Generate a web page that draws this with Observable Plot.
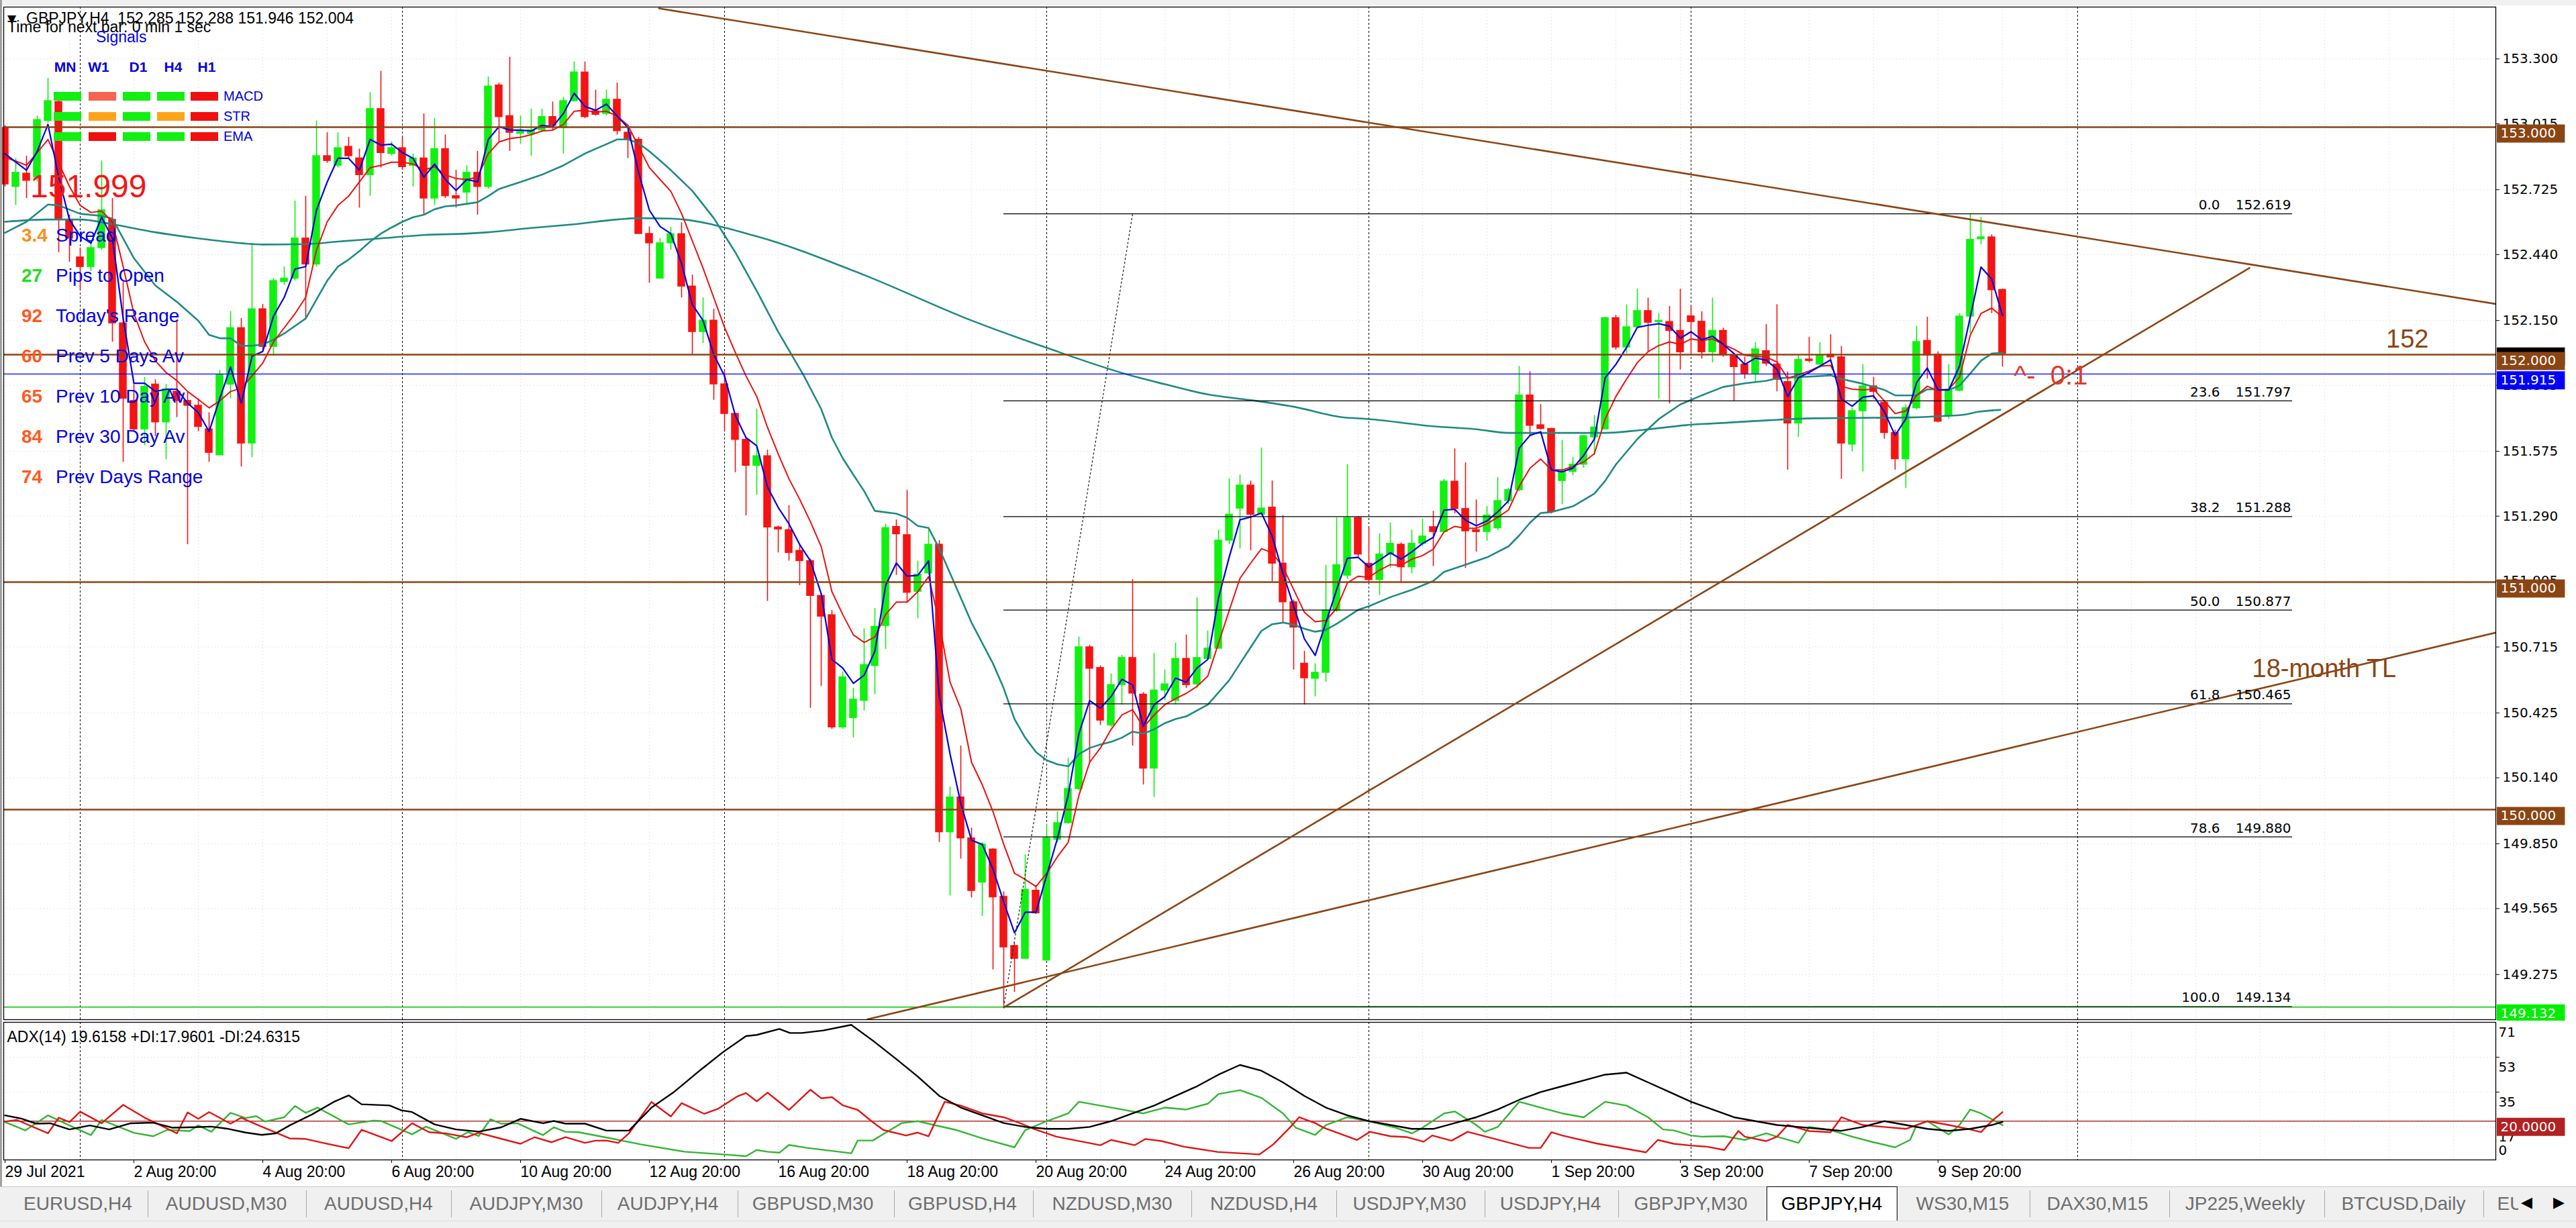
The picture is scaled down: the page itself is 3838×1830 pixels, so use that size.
<!DOCTYPE html>
<html><head><meta charset="utf-8">
<script src="https://cdn.jsdelivr.net/npm/d3@7"></script>
<script src="https://cdn.jsdelivr.net/npm/@observablehq/plot@0.6"></script>
<style>
body{margin:0;background:#fff;}
#root{position:relative;width:3838px;height:1830px;overflow:hidden;background:#fff;font-family:"Liberation Sans",Arial,sans-serif;}
#price,#adx{position:absolute;left:0;width:3838px;}
#price{top:0}
#adx{top:1521px}
#overlay{position:absolute;left:0;top:0;pointer-events:none}
#tabs{position:absolute;left:0;top:1768px;width:3838px;height:62px;background:#f0f0f0;border-top:1px solid #c8c8c8;box-sizing:border-box;}
.tab{position:absolute;top:0;height:50px;line-height:50px;font-size:28px;color:#6d6d6d;transform:translateX(-50%);white-space:nowrap;}
.sep{position:absolute;top:5px;height:40px;width:1px;background:#a8a8a8;}
</style></head>
<body><div id="root"><div id="price"></div><div id="adx"></div><svg id="overlay" width="3838" height="1830"></svg><div id="tabs"></div></div>
<script>
// ---------------- DATA ----------------
const open = [
152.997,152.738,152.796,152.780,153.028,153.111,152.593,152.428,152.386,152.469,
152.593,152.138,151.797,151.672,151.869,151.703,151.838,151.797,151.776,151.672,
151.558,151.869,152.117,151.610,152.200,152.035,152.320,152.335,152.511,152.397,
152.873,152.831,152.914,152.863,152.790,153.080,152.883,152.908,152.831,152.863,
152.687,152.904,152.697,152.713,152.800,152.738,153.184,153.049,152.972,152.970,
152.987,153.045,152.997,153.115,153.241,153.070,153.059,153.121,152.976,152.945,
152.531,152.335,152.490,152.530,152.300,152.100,152.150,151.870,151.740,151.626,
151.512,151.554,151.241,151.229,151.138,151.093,150.940,150.855,150.362,150.403,
150.479,150.632,150.808,151.243,151.207,150.958,151.039,151.165,149.901,150.054,
149.874,149.680,149.825,149.617,149.401,149.345,149.644,149.337,149.868,149.941,
150.091,150.714,150.623,150.371,150.548,150.667,150.506,150.181,150.524,150.479,
150.663,150.551,150.663,150.708,151.183,151.324,151.425,151.297,151.328,151.082,
150.912,150.642,150.576,150.602,150.876,151.029,151.282,151.081,151.010,151.122,
151.165,151.066,151.169,151.242,151.221,151.442,151.322,151.229,151.221,151.237,
151.357,151.405,151.821,151.690,151.674,151.445,151.485,151.517,151.637,151.672,
152.161,152.032,152.121,152.192,152.144,152.144,152.105,152.169,152.145,152.011,
152.105,151.997,151.957,151.917,152.016,151.957,151.880,151.698,151.979,151.957,
152.001,151.989,151.605,151.752,151.861,151.789,151.656,151.541,151.765,152.061,
152.001,151.733,151.842,152.168,152.508,152.516,152.285];
const high = [
153.007,152.863,152.873,153.049,153.215,153.121,152.614,152.469,152.490,152.852,
152.687,152.324,151.869,151.900,151.890,151.869,152.148,151.838,151.807,151.745,
151.931,152.190,152.159,152.490,152.221,152.335,152.386,152.676,152.697,153.028,
152.976,152.976,152.956,152.904,153.152,153.246,152.935,152.956,152.883,153.059,
153.038,152.966,152.811,152.831,152.894,153.221,153.194,153.308,153.049,153.080,
153.080,153.111,153.132,153.287,153.287,153.163,153.163,153.194,152.987,152.956,
152.562,152.511,152.560,152.580,152.350,152.250,152.200,151.930,151.743,151.635,
151.761,151.581,151.247,151.337,151.165,151.102,150.949,150.876,150.605,150.533,
150.795,150.885,151.256,151.274,151.404,151.093,151.229,151.183,150.100,150.280,
149.919,149.856,149.829,149.639,149.413,149.802,149.666,149.937,149.991,150.226,
150.759,150.723,150.632,150.596,150.678,151.012,150.515,150.687,150.614,150.732,
150.768,150.931,150.786,151.229,151.454,151.472,151.445,151.590,151.445,151.292,
150.922,150.696,150.642,151.075,151.283,151.517,151.288,151.237,151.213,151.261,
151.173,151.229,151.277,151.312,151.453,151.586,151.525,151.362,151.333,151.461,
151.413,151.949,151.925,151.781,151.677,151.624,151.549,151.645,151.733,152.165,
152.173,152.220,152.288,152.249,152.181,152.212,152.288,152.212,152.189,152.249,
152.117,152.005,151.989,152.053,152.133,152.220,151.925,151.997,152.077,152.053,
152.088,152.037,151.765,151.957,151.901,151.797,151.669,151.781,152.125,152.165,
152.013,151.957,152.181,152.619,152.604,152.527,152.288];
const low = [
152.738,152.656,152.687,152.759,153.018,152.449,152.407,152.283,152.366,152.459,
152.055,151.527,151.662,151.600,151.641,151.538,151.724,151.165,151.662,151.527,
151.558,151.807,151.507,151.548,152.014,151.993,152.304,152.324,152.159,152.386,
152.842,152.821,152.863,152.645,152.697,152.821,152.873,152.811,152.738,152.614,
152.656,152.687,152.645,152.656,152.614,152.728,152.935,152.894,152.925,152.873,
152.976,152.987,152.883,153.111,153.038,153.049,153.049,152.966,152.863,152.531,
152.314,152.335,152.460,152.250,152.000,152.050,151.800,151.662,151.482,151.292,
151.382,150.916,151.129,151.093,150.985,150.446,150.542,150.353,150.353,150.316,
150.434,150.506,150.705,151.030,150.912,150.840,151.030,149.856,149.621,149.783,
149.612,149.531,149.296,149.140,149.197,149.341,149.540,149.337,149.856,149.937,
150.082,150.208,150.371,150.362,150.461,150.280,150.109,150.054,150.479,150.461,
150.533,150.533,150.660,150.705,151.165,151.147,151.138,151.292,151.003,150.822,
150.614,150.461,150.497,150.560,150.867,151.013,151.109,150.997,150.942,151.061,
150.997,151.037,151.157,151.069,151.221,151.301,151.061,151.133,151.181,151.229,
151.341,151.397,151.645,151.669,151.301,151.341,151.469,151.501,151.557,151.669,
152.021,152.005,152.117,152.013,151.805,151.784,151.933,151.997,151.981,151.965,
151.989,151.797,151.893,151.877,151.949,151.837,151.493,151.637,151.965,151.941,
151.965,151.453,151.573,151.485,151.805,151.629,151.493,151.413,151.757,151.893,
151.701,151.717,151.837,152.093,152.484,152.181,151.946];
const close = [
152.749,152.800,152.765,153.032,153.115,152.593,152.511,152.386,152.469,152.635,
152.138,151.807,151.672,151.859,151.703,151.848,151.797,151.776,151.683,151.569,
151.910,152.117,151.610,152.200,152.035,152.324,152.335,152.511,152.397,152.873,
152.852,152.908,152.873,152.790,153.080,152.887,152.908,152.825,152.863,152.687,
152.904,152.697,152.687,152.800,152.738,153.179,153.045,152.976,152.980,152.987,
153.045,153.007,153.115,153.241,153.045,153.055,153.121,152.983,152.945,152.531,
152.490,152.490,152.530,152.300,152.100,152.150,151.870,151.740,151.626,151.512,
151.554,151.241,151.232,151.129,151.093,150.940,150.849,150.362,150.582,150.484,
150.636,150.804,151.238,151.211,150.954,151.033,151.165,149.901,150.054,149.874,
149.643,149.847,149.615,149.395,149.345,149.648,149.545,149.874,149.941,150.091,
150.714,150.620,150.392,150.548,150.667,150.511,150.181,150.524,150.551,150.663,
150.548,150.667,150.708,151.183,151.297,151.425,151.297,151.324,151.082,150.912,
150.801,150.578,150.602,150.876,151.075,151.282,151.122,151.010,151.122,151.169,
151.066,151.169,151.201,151.221,151.442,151.322,151.224,151.221,151.293,151.357,
151.405,151.821,151.688,151.674,151.309,151.485,151.517,151.642,151.680,152.161,
152.032,152.121,152.192,152.141,152.149,152.105,152.011,152.144,152.011,152.105,
151.997,151.946,151.917,152.024,151.961,151.890,151.698,151.977,151.973,151.997,
151.989,151.610,151.752,151.861,151.837,151.656,151.541,151.765,152.056,151.997,
151.706,151.842,152.168,152.505,152.516,152.284,152.004];

// fast moving averages (one value per bar)
const blueMA = [
152.883,152.846,152.811,152.894,153.012,152.780,152.593,152.521,152.490,152.604,
152.511,152.159,151.874,151.874,151.838,151.848,151.848,151.787,151.745,151.662,
151.807,151.946,151.787,151.993,152.014,152.169,152.252,152.376,152.387,152.635,
152.759,152.863,152.863,152.811,152.946,152.921,152.925,152.888,152.863,152.780,
152.838,152.770,152.722,152.770,152.759,152.946,153.002,152.987,152.987,152.983,
153.008,153.002,153.060,153.149,153.091,153.074,153.101,153.049,152.998,152.801,
152.635,152.563,152.532,152.400,152.220,152.150,152.000,151.906,151.734,151.635,
151.599,151.418,151.328,151.256,151.165,151.093,150.949,150.660,150.623,150.555,
150.591,150.696,150.985,151.084,151.026,151.030,151.093,150.497,150.244,150.027,
149.865,149.847,149.738,149.594,149.458,149.549,149.549,149.711,149.874,150.063,
150.334,150.479,150.446,150.497,150.573,150.548,150.367,150.461,150.497,150.578,
150.560,150.623,150.660,150.931,151.111,151.274,151.286,151.304,151.201,151.039,
150.894,150.750,150.678,150.822,150.967,151.105,151.109,151.066,151.097,151.129,
151.101,151.133,151.170,151.197,151.317,151.320,151.272,151.248,151.269,151.309,
151.357,151.589,151.645,151.661,151.493,151.485,151.501,151.557,151.629,151.898,
151.957,152.032,152.120,152.129,152.136,152.125,152.072,152.101,152.065,152.081,
152.045,152.005,151.957,151.985,151.976,151.936,151.816,151.898,151.922,151.949,
151.977,151.805,151.773,151.813,151.819,151.749,151.645,151.717,151.877,151.941,
151.845,151.845,151.949,152.165,152.385,152.332,152.173];
const redMA = [
152.867,152.851,152.832,152.888,152.946,152.842,152.739,152.656,152.625,152.631,
152.584,152.387,152.180,152.056,151.973,151.921,151.886,151.838,151.803,151.766,
151.797,151.838,151.853,151.907,151.963,152.056,152.118,152.180,152.252,152.459,
152.584,152.656,152.697,152.759,152.822,152.832,152.846,152.846,152.838,152.811,
152.826,152.791,152.774,152.770,152.780,152.884,152.935,152.950,152.956,152.967,
152.983,152.987,153.012,153.070,153.074,153.066,153.070,153.049,153.008,152.915,
152.822,152.770,152.718,152.620,152.500,152.380,152.250,152.120,152.010,151.906,
151.816,151.680,151.563,151.454,151.364,151.265,151.156,150.958,150.858,150.768,
150.735,150.759,150.858,150.912,150.912,150.958,151.024,150.822,150.560,150.443,
150.208,150.109,149.991,149.847,149.720,149.693,149.662,149.720,149.793,149.856,
150.063,150.208,150.271,150.353,150.416,150.439,150.362,150.416,150.461,150.488,
150.511,150.542,150.587,150.732,150.876,151.017,151.084,151.147,151.129,151.066,
150.967,150.867,150.826,150.831,150.885,150.997,151.026,151.021,151.053,151.077,
151.074,151.101,151.117,151.145,151.221,151.245,151.237,151.237,151.256,151.285,
151.317,151.421,151.501,151.541,151.493,151.493,151.509,151.528,151.565,151.717,
151.816,151.893,151.965,152.013,152.040,152.056,152.045,152.069,152.061,152.069,
152.045,152.024,151.997,151.993,151.989,151.968,151.896,151.912,151.928,151.949,
151.953,151.861,151.848,151.845,151.848,151.797,151.741,151.752,151.821,151.861,
151.842,151.848,151.901,152.085,152.181,152.205,152.165];
// slower averages: [bar, price] vertices
const tealMid = [[0,152.536],[2,152.584],[4,152.660],[5,152.656],[7,152.619],[9,152.610],[10,152.598],[12,152.424],[14,152.304],[16,152.232],[18,152.149],[19,152.087],[20,152.072],[21,152.072],[22,152.039],[23,152.039],[24,152.045],[25,152.066],[26,152.093],[28,152.159],[29,152.242],[30,152.325],[31,152.387],[32,152.418],[33,152.455],[34,152.497],[35,152.532],[36,152.559],[37,152.584],[38,152.604],[39,152.615],[40,152.639],[41,152.652],[42,152.656],[44,152.670],[45,152.697],[46,152.728],[48,152.759],[50,152.791],[52,152.832],[54,152.884],[56,152.925],[57,152.946],[58,152.946],[59,152.929],[60,152.894],[61,152.853],[62,152.811],[64,152.72],[66,152.60],[68,152.45],[70,152.28],[72,152.10],[74.4,151.906],[76,151.761],[77,151.635],[78,151.545],[79,151.472],[80,151.400],[81,151.313],[83,151.301],[84,151.283],[85,151.247],[86,151.238],[87,151.147],[88,151.039],[90,150.822],[92,150.642],[93,150.533],[94,150.398],[95,150.316],[96,150.253],[97,150.217],[98,150.199],[99,150.190],[100,150.244],[101,150.271],[102,150.286],[103,150.298],[104,150.316],[105,150.343],[106,150.334],[107,150.353],[108,150.380],[109,150.398],[110,150.410],[112,150.461],[113,150.515],[114,150.569],[115,150.642],[116,150.714],[117,150.786],[118,150.815],[119,150.822],[120,150.813],[121,150.795],[122,150.782],[123,150.790],[124,150.817],[126,150.878],[127,150.894],[129,150.934],[131,150.966],[133,151.005],[134,151.045],[136,151.077],[138,151.109],[140,151.157],[141,151.205],[142,151.261],[143,151.304],[144,151.308],[146,151.333],[148,151.389],[149,151.445],[150,151.517],[152,151.629],[154,151.717],[156,151.781],[158,151.821],[160,151.858],[162,151.874],[164,151.885],[165,151.896],[167,151.901],[169,151.906],[170,151.909],[171,151.893],[173,151.872],[175,151.845],[176,151.821],[178,151.821],[179,151.848],[181,151.845],[182,151.864],[183,151.917],[184,151.973],[185,152.005],[186,152.008]];
const tealSlow = [[0,152.584],[4,152.594],[7,152.594],[10,152.573],[14,152.538],[18,152.511],[22,152.490],[24,152.484],[28,152.486],[31,152.497],[35,152.511],[39,152.526],[43,152.532],[45,152.538],[49,152.557],[53,152.573],[57,152.594],[59,152.600],[62,152.598],[70,152.52],[80,152.35],[90,152.15],[97,152.03],[105,151.906],[108,151.87],[112,151.825],[116,151.80],[120,151.771],[124.5,151.725],[127,151.717],[133,151.685],[137,151.672],[140,151.656],[149,151.656],[152.5,151.669],[156.5,151.690],[160.4,151.701],[164.4,151.712],[168.4,151.720],[172.4,151.722],[176.4,151.723],[180.4,151.730],[182.4,151.736],[183.8,151.749],[185.8,151.757]];

// ADX(14) panel: [bar, value]
const adxMain = [[0,23.0],[1.6,21.2],[2.9,18.7],[4.2,18.9],[6,15.7],[7.9,17.8],[9.7,15.7],[11.7,18.9],[13.8,19.2],[15.6,16.6],[17.7,16.9],[19.2,17.2],[20.8,16.0],[22.4,14.1],[23.9,12.9],[25.2,13.7],[26.5,17.8],[28.6,23.5],[30.6,29.9],[32,33.3],[33.2,28.7],[35.8,28.1],[36.9,25.6],[37.9,24.7],[40,18.3],[42,15.7],[44.1,14.6],[46.2,16.8],[48,21.2],[50.1,18.9],[51.1,20.1],[52.2,18.7],[54,18.7],[56,15.1],[58.1,15.1],[60.2,27.0],[62.3,35.1],[64.8,46.6],[66.9,55.8],[69,63.9],[70,64.5],[72.1,67.6],[73.1,65.5],[74.2,65.5],[76.2,66.8],[78.8,69.7],[80.8,61.6],[83,52],[85,43],[87,33],[89,27],[91,23],[93,19],[95,17],[97,16],[99,16],[101,17],[103,20],[105,24],[107,28],[109,33],[111,38],[113,44],[115,49],[117,46],[119,40],[121,33],[123,27],[125,23],[127,20],[129,18],[131,16],[133,16],[135,19],[137,22],[139,26],[141,31],[143,35],[145,38],[147,41],[149,44],[151,45],[153,40],[155,35],[157,30],[159,26],[161,22],[163,20],[165,18],[167,17],[169,16],[171,15],[173,17],[175,20],[177,18],[179,16],[181,15],[183,16],[185,18],[186,19.6158]];
const plusDI = [[0,19.5],[1.9,15.2],[4,23.0],[6,17.8],[8,12.8],[9,20.6],[12,14.0],[13.8,12.2],[15.1,15.5],[17.2,14.9],[18,17.8],[19.2,14.5],[21,24.3],[22.4,21.6],[23.4,22.6],[24.2,19.8],[26,22.0],[27,27.8],[28,24.3],[29.1,27.0],[32,18.3],[34.3,20.3],[35,20.1],[37.9,13.2],[39.2,17.2],[42,10.9],[43.1,14.3],[44.1,12.3],[45.2,21.0],[46.2,18.7],[47.7,18.9],[50.1,12.8],[51.1,16.8],[52.2,14.5],[53.4,14.3],[56.6,10.9],[59.2,8.0],[63.3,4.2],[66.9,2.8],[69,1.9],[70,5.1],[71,4.2],[72.1,3.7],[73,7.7],[74.7,6.2],[78.8,3.4],[79.4,10.0],[80.8,10.0],[82,14],[83.5,19],[85,20],[86.5,18],[88.6,15.4],[91.2,10.8],[94,6.5],[95,15.4],[97,20],[99,24],[100,30],[102,28],[104,26],[106,24],[108,27],[110,26],[112,29],[113,34],[115,36],[117,32],[119,24],[120.2,16.6],[122,12.9],[123,18],[125,22],[127,20],[129.5,16.6],[131,13.7],[132,16.6],[134,24],[135,25],[137,18],[137.8,14.5],[139,17],[141,30],[143,27],[145,24],[147,22],[149,30],[151,28],[153,22],[154.4,15.7],[155.4,15.2],[157,12.6],[158,12],[160.1,12.2],[162,10.3],[164,13.7],[165,12],[167,8.8],[168,17],[170,15.4],[172,12],[174,9.1],[176,6.5],[177.4,10.3],[178,18],[179,20],[181,13.1],[182,18],[183,26],[184,24],[185,21],[186,17.9601]];
const minusDI = [[0,19.8],[1.1,20.6],[4,13.7],[5,21.8],[6,19.5],[7,24.9],[9,18.9],[11,28.4],[13,21.8],[14,19.2],[16,13.7],[17,24.5],[18,21.2],[19,24.7],[21,18.7],[22,21.8],[23.4,18.3],[26.5,11.1],[28,10.8],[29.6,8.8],[32,6.0],[33.2,15.5],[36,9.7],[37.9,18.9],[39.5,14.3],[41,13.7],[43,11.7],[44.1,14.0],[46.2,10.9],[48,8.3],[49.3,11.7],[50.9,9.1],[52.2,11.7],[54,8.8],[55,9.9],[56,10.0],[57.1,8.8],[58.1,13.7],[60.2,29.9],[62,22.4],[63,29.3],[65.1,23.8],[66.4,26.4],[68.2,32.8],[69,34.5],[70,30.2],[71,34.7],[73,25.8],[75,36.2],[76,31.8],[77,32.4],[78,28.2],[79.4,25.8],[80.8,19.5],[81.8,15.4],[83.9,12.6],[85,14.1],[86,12.2],[87.5,30],[89,28],[91,24],[93,22],[94.5,19],[95.8,16.0],[97.9,12.0],[102,7.6],[103,10.3],[105.2,7.6],[106.2,10.8],[107.7,9.7],[109.8,6.8],[112.9,4.1],[116.8,2.8],[118.1,8.0],[119.7,17],[120.5,22],[122,19],[122.8,16.6],[125.9,10.3],[127.1,14.5],[129,12.2],[130.5,11.8],[132.1,9.4],[132.9,12.6],[134.7,9.9],[136.2,14.5],[141.9,6.2],[143,6.2],[144,14.3],[145,12.6],[148.2,8.5],[152.8,3.9],[153.9,10.3],[155.4,8.3],[157,7.4],[158.5,6.8],[160.1,5.1],[161.4,14.9],[162,12.0],[164,9.7],[165,12.0],[166,18],[168,14.9],[170,14.3],[171,22],[173,18],[175,17],[177,16],[179,20],[181,18],[182.8,16.0],[184,14.3],[185,20],[186,24.6315]];

// levels / drawings
const roundLevels = [153, 152, 151, 150];
const bidPrice = 151.915, lowMark = 149.132, lastPrice = 152.004;
const fibLevels = ["0.0","23.6","38.2","50.0","61.8","78.6","100.0"];
const fibPrices = [152.619,151.797,151.288,150.877,150.465,149.880,149.134];
const fibFrom = 93, fibTo = 213;
const fibDiagonal = [[93,149.134],[105,152.619]];
const trendDown = [[60.9,153.522],[231.94,152.223]];
const trendUpShort = [[93,149.13],[209,152.381]];
const trend18m = [[80.3,149.078],[231.94,150.778]];
const weekSeps = [7,37,67,97,127,157,193];
const priceTicks = [153.300,153.015,152.725,152.440,152.150,151.865,151.575,151.290,151.005,150.715,150.425,150.140,149.850,149.565,149.275];
const dateTicks = [0,12,24,36,48,60,72,84,96,108,120,132,144,156,168,180];
const dateLabels = ["29 Jul 2021","2 Aug 20:00","4 Aug 20:00","6 Aug 20:00","10 Aug 20:00","12 Aug 20:00","16 Aug 20:00","18 Aug 20:00","20 Aug 20:00","24 Aug 20:00","26 Aug 20:00","30 Aug 20:00","1 Sep 20:00","3 Sep 20:00","7 Sep 20:00","9 Sep 20:00"];
const adxUpperLabels = [71,53,35,17];
const adxLowerLabels = [0];
const adxLevel = 20;

// info panel
const infoValues = ["3.4","27","92","60","65","84","74"];
const infoLabels = ["Spread","Pips to Open","Today's Range","Prev 5 Days Av","Prev 10 Day Av","Prev 30 Day Av","Prev Days Range"];
const signalCols = ["MN","W1","D1","H4","H1"];
const signalRows = ["MACD","STR","EMA"];
const signalStates = [["up","weak","up","up","down"],["up","mid","up","mid","down"],["up","down","up","up","down"]];
const tabs = ["EURUSD,H4","AUDUSD,M30","AUDUSD,H4","AUDJPY,M30","AUDJPY,H4","GBPUSD,M30","GBPUSD,H4","NZDUSD,M30","NZDUSD,H4","USDJPY,M30","USDJPY,H4","GBPJPY,M30","GBPJPY,H4","WS30,M15","DAX30,M15","JP225,Weekly","BTCUSD,Daily","EU"];

// ---------------- STYLE / LAYOUT ----------------
const GREEN = "#12f012", RED = "#f41414", BROWN = "#8b4513", TEAL = "#1f8a82";
const xDomain = [-0.125, 231.9375];
const boxX1 = 232.06, boxX2 = 238.4;
const candles = open.map((o, i) => ({i, open: o, high: high[i], low: low[i], close: close[i], up: close[i] >= o}));
const pair = {x: d => d[0], y: d => d[1]};
const AX = "DejaVu Sans";

const pricePlot = Plot.plot({
  width: 3838, height: 1521,
  marginLeft: 5, marginRight: 120, marginTop: 10, marginBottom: 2,
  x: {domain: xDomain, axis: null},
  y: {domain: [149.0767, 153.528], axis: null},
  style: {background: "white", fontFamily: AX, fontSize: "20px", color: "black", overflow: "visible"},
  marks: [
    Plot.ruleY(priceTicks, {stroke: "#d4d4d4", strokeDasharray: "1,4"}),
    Plot.ruleX(d3.range(0, 232, 6), {stroke: "#d4d4d4", strokeDasharray: "1,4"}),
    Plot.ruleX(weekSeps, {stroke: "black", strokeDasharray: "3,3", strokeWidth: 1}),
    Plot.ruleX(candles, {x: "i", y1: "low", y2: "high", stroke: d => d.up ? GREEN : RED, strokeWidth: 1.6}),
    Plot.rect(candles, {x1: d => d.i - 0.36, x2: d => d.i + 0.36, y1: "open", y2: "close", fill: d => d.up ? GREEN : RED, insetTop: -0.7, insetBottom: -0.7}),
    Plot.line(tealSlow, {...pair, stroke: TEAL, strokeWidth: 2.6, curve: "monotone-x"}),
    Plot.line(tealMid, {...pair, stroke: TEAL, strokeWidth: 2.6}),
    Plot.line(redMA, {x: (d, i) => i, y: d => d, stroke: "#e81010", strokeWidth: 2}),
    Plot.line(blueMA, {x: (d, i) => i, y: d => d, stroke: "#0000e0", strokeWidth: 2.2}),
    Plot.ruleY(roundLevels, {stroke: BROWN, strokeWidth: 2.6}),
    Plot.ruleY([bidPrice], {stroke: "#0000ff", strokeWidth: 1.3}),
    Plot.ruleY([lowMark], {stroke: "#00c800", strokeWidth: 1.4}),
    Plot.ruleY(fibPrices, {x1: fibFrom, x2: fibTo, stroke: "black", strokeWidth: 1.3}),
    Plot.line(fibDiagonal, {...pair, stroke: "#222", strokeWidth: 1.3, strokeDasharray: "2,4"}),
    Plot.line(trendDown, {...pair, stroke: BROWN, strokeWidth: 2.6, clip: true}),
    Plot.line(trendUpShort, {...pair, stroke: BROWN, strokeWidth: 2.6, clip: true}),
    Plot.line(trend18m, {...pair, stroke: BROWN, strokeWidth: 2.6, clip: true}),
    Plot.text(fibPrices, {x: fibTo, y: d => d, text: d => d.toFixed(3), textAnchor: "end", dx: -2, dy: -13, fontSize: 20, fontFamily: AX, fill: "black"}),
    Plot.text(fibPrices, {x: fibTo, y: d => d, text: (d, i) => fibLevels[i], textAnchor: "end", dx: -108, dy: -13, fontSize: 20, fontFamily: AX, fill: "black"}),
    Plot.text(["152"], {frameAnchor: "top-right", dx: -100, dy: 481, fontSize: 38, fontFamily: "Liberation Sans", fill: BROWN}),
    Plot.text(["18-month TL"], {frameAnchor: "top-right", dx: -363, dy: 972, textAnchor: "start", fontSize: 38, fontFamily: "Liberation Sans", fill: BROWN}),
    Plot.text(["^-\u00a0\u00a00:1"], {frameAnchor: "top-right", dx: -718, dy: 534, textAnchor: "start", fontSize: 40, fontFamily: "Liberation Sans", fill: "#e03a2a"}),
    Plot.frame({stroke: "black", strokeWidth: 1.3}),
    Plot.axisY(priceTicks, {anchor: "right", tickSize: 5, tickPadding: 5, tickFormat: d => d.toFixed(3), label: null, fontSize: 20}),
    Plot.ruleY([lastPrice], {x1: boxX1, x2: boxX2, dy: 4, stroke: "black", strokeWidth: 27}),
    Plot.ruleY([153, 152, bidPrice, 151, 150, lowMark], {x1: boxX1, x2: boxX2, dy: 9.5, stroke: (d) => d === bidPrice ? "#0000ff" : d === lowMark ? "#00ee00" : BROWN, strokeWidth: 27}),
    Plot.text([153, 152, bidPrice, 151, 150, lowMark], {x: boxX1, y: d => d, dx: 5, dy: 9.5, textAnchor: "start", text: d => d.toFixed(3), fill: "white", fontSize: 20, fontFamily: AX})
  ]
});
document.getElementById("price").appendChild(pricePlot);

const adxPlot = Plot.plot({
  width: 3838, height: 250,
  marginLeft: 5, marginRight: 120, marginTop: 2, marginBottom: 43,
  x: {domain: xDomain, axis: null},
  y: {domain: [0, 71], axis: null},
  style: {background: "white", fontFamily: AX, fontSize: "20px", color: "black"},
  marks: [
    Plot.ruleY([17, 35, 53], {stroke: "#d4d4d4", strokeDasharray: "1,4"}),
    Plot.ruleX(d3.range(0, 232, 6), {stroke: "#d4d4d4", strokeDasharray: "1,4"}),
    Plot.ruleX(weekSeps, {stroke: "black", strokeDasharray: "3,3", strokeWidth: 1}),
    Plot.ruleY([adxLevel], {stroke: "#b03030", strokeWidth: 1.4}),
    Plot.line(plusDI, {...pair, stroke: "#33b533", strokeWidth: 2.4}),
    Plot.line(minusDI, {...pair, stroke: "#e01515", strokeWidth: 2.4}),
    Plot.line(adxMain, {...pair, stroke: "black", strokeWidth: 2.4}),
    Plot.frame({stroke: "black", strokeWidth: 1.3}),
    Plot.text(["ADX(14) 19.6158 +DI:17.9601 -DI:24.6315"], {frameAnchor: "top-left", dx: 5, dy: 13, textAnchor: "start", fontSize: 23, fontFamily: "Liberation Sans", fill: "black"}),
    Plot.axisY([53, 35], {anchor: "right", tickSize: 5, tickFormat: () => "", label: null}),
    Plot.text(adxUpperLabels, {y: d => d, frameAnchor: "right", dx: 4, dy: 15, textAnchor: "start", text: d => String(d), fontSize: 20, fontFamily: AX, fill: "black"}),
    Plot.text(adxLowerLabels, {y: d => d, frameAnchor: "right", dx: 4, dy: -14, textAnchor: "start", text: d => String(d), fontSize: 20, fontFamily: AX, fill: "black"}),
    Plot.ruleY([adxLevel], {x1: boxX1, x2: boxX2, dy: 8.5, stroke: "#b22222", strokeWidth: 27}),
    Plot.text([adxLevel], {x: boxX1, y: d => d, dx: 5, dy: 8.5, textAnchor: "start", text: d => d.toFixed(4), fill: "white", fontSize: 20, fontFamily: AX}),
    Plot.axisX(dateTicks, {anchor: "bottom", tickSize: 5, tickFormat: () => "", label: null}),
    Plot.text(dateTicks, {x: d => d, frameAnchor: "bottom", dy: 25, textAnchor: "start", text: (d, i) => dateLabels[i], fontSize: 23, fontFamily: "Liberation Sans", fill: "black"})
  ]
});
document.getElementById("adx").appendChild(adxPlot);

// ---------------- OVERLAY TEXT PANEL ----------------
const ov = d3.select("#overlay").attr("font-family", "Liberation Sans, Arial, sans-serif");
ov.append("rect").attr("x", 0).attr("y", 0).attr("width", 3838).attr("height", 8).attr("fill", "#f0f0f0");
ov.append("rect").attr("x", 0).attr("y", 0).attr("width", 3).attr("height", 1768).attr("fill", "#a0a0a0");
ov.append("text").attr("x", 11).attr("y", 34).attr("font-size", 17).attr("font-family", "DejaVu Sans").text("▼");
ov.append("text").attr("x", 39).attr("y", 35).attr("font-size", 23).style("white-space", "pre").text("GBPJPY,H4  152.285 152.288 151.946 152.004");
ov.append("text").attr("x", 11).attr("y", 48).attr("font-size", 23).text("Time for next bar: 0 min 1 sec");
ov.append("text").attr("x", 143).attr("y", 63).attr("font-size", 23).attr("fill", "#0000ee").text("Signals");
const colX = [97, 147, 206, 258, 308], boxL = [80, 132, 183, 234, 284];
signalCols.forEach((c, k) => ov.append("text").attr("x", colX[k]).attr("y", 107).attr("font-size", 21).attr("font-weight", "bold").attr("text-anchor", "middle").attr("fill", "#0000dd").text(c));
const stateColor = {up: "#11f011", weak: "#f76451", mid: "#ffa41a", down: "#f01010"};
signalRows.forEach((r, j) => {
  const yc = 143 + 30 * j;
  signalStates[j].forEach((s, k) => ov.append("rect").attr("x", boxL[k]).attr("y", yc - 6).attr("width", 41).attr("height", 13).attr("fill", stateColor[s]));
  ov.append("text").attr("x", 333).attr("y", yc + 7).attr("font-size", 20).attr("fill", "#0000dd").text(r);
});
ov.append("text").attr("x", 45).attr("y", 294).attr("font-size", 48).attr("fill", "#f01818").text("151.999");
const valColor = ["#ff8c1a", "#22dd22", "#ff5a1f", "#ff5a1f", "#ff5a1f", "#ff5a1f", "#ff5a1f"];
infoValues.forEach((v, k) => {
  const yb = 360 + 60 * k;
  ov.append("text").attr("x", 32).attr("y", yb).attr("font-size", 28).attr("font-weight", "bold").attr("fill", valColor[k]).text(v);
  ov.append("text").attr("x", 83).attr("y", yb).attr("font-size", 28).attr("fill", "#0000e6").text(infoLabels[k]);
});

// ---------------- TABS ----------------
const tabCenters = [116,337,564,784,995,1211,1434,1657,1883,2100,2310,2519,2729,2924,3125,3345,3581,3740];
const tabSeps = [220,456,672,896,1099,1332,1539,1775,1991,2212,2411,3024,3232,3463,3700];
const tb = d3.select("#tabs");
tb.append("div").style("position","absolute").style("left","2632px").style("top","-1px").style("width","195px").style("height","51px").style("background","#fff").style("border","1.5px solid #000").style("border-bottom","none").style("box-sizing","border-box");
tabSeps.forEach(x => tb.append("div").attr("class","sep").style("left", x + "px"));
tabs.forEach((t, k) => tb.append("div").attr("class","tab").style("left", tabCenters[k] + "px").style("color", t === "GBPJPY,H4" ? "#000" : "#6d6d6d").text(t));
tb.append("div").style("position","absolute").style("left","3752px").style("top","0").style("width","86px").style("height","50px").style("background","#f0f0f0");
tb.append("div").style("position","absolute").style("left","3756px").style("top","10px").style("font-size","22px").style("font-family","DejaVu Sans").text("◀");
tb.append("div").style("position","absolute").style("left","3804px").style("top","10px").style("font-size","22px").style("font-family","DejaVu Sans").text("▶");
tb.append("div").style("position","absolute").style("left","0").style("top","50px").style("width","3838px").style("height","1px").style("background","#dcdcdc");
</script>
</body></html>
